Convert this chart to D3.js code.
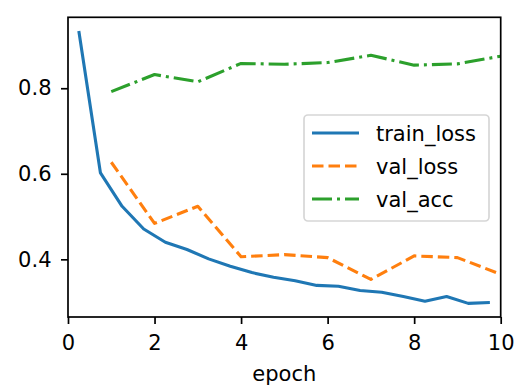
<!DOCTYPE html>
<html>
<head>
<meta charset="utf-8">
<script src="https://cdn.jsdelivr.net/npm/d3@7"></script>
<style>
  html, body { margin: 0; padding: 0; background: #ffffff; }
  svg { display: block; font-family: "DejaVu Sans", sans-serif; }
</style>
</head>
<body>
<svg id="chart" width="521" height="390"></svg>
<script>
// ---- data ----
const trainEpochs = [0.25, 0.75, 1.25, 1.75, 2.25, 2.75, 3.25, 3.75, 4.25, 4.75,
                     5.25, 5.75, 6.25, 6.75, 7.25, 7.75, 8.25, 8.75, 9.25, 9.75];
const trainLoss = [0.934, 0.602, 0.524, 0.471, 0.440, 0.423, 0.401, 0.384, 0.369, 0.358,
                   0.350, 0.339, 0.337, 0.327, 0.323, 0.313, 0.302, 0.313, 0.297, 0.299];
const valEpochs = [1, 2, 3, 4, 5, 6, 7, 8, 9, 10];
const valLoss = [0.627, 0.484, 0.524, 0.406, 0.411, 0.404, 0.353, 0.408, 0.404, 0.365];
const valAcc  = [0.792, 0.832, 0.815, 0.858, 0.856, 0.860, 0.877, 0.854, 0.857, 0.875];
const xTicks = [0, 2, 4, 6, 8, 10];
const yTicks = [0.4, 0.6, 0.8];
const seriesNames = ["train_loss", "val_loss", "val_acc"];
const seriesColors = ["#1f77b4", "#ff7f0e", "#2ca02c"];
const xLabel = "epoch";

// ---- layout ----
const W = 521, H = 390;
const margin = { left: 68, right: 20.3, top: 17.3, bottom: 73 };
const svg = d3.select("#chart");

const allY = trainLoss.concat(valLoss, valAcc);
const yMin = d3.min(allY), yMax = d3.max(allY), pad = (yMax - yMin) * 0.05;

const x = d3.scaleLinear().domain([0, 10]).range([margin.left, W - margin.right]);
const y = d3.scaleLinear().domain([yMin - pad, yMax + pad]).range([H - margin.bottom, margin.top]);

const series = [
  { name: seriesNames[0], xs: trainEpochs, ys: trainLoss, color: seriesColors[0], dash: null },
  { name: seriesNames[1], xs: valEpochs, ys: valLoss, color: seriesColors[1], dash: "11.5,5" },
  { name: seriesNames[2], xs: valEpochs, ys: valAcc, color: seriesColors[2], dash: "20,5,3,5" }
];

const line = d3.line().x(d => x(d[0])).y(d => y(d[1]));

const plot = svg.append("g");
series.forEach(s => {
  plot.append("path")
    .datum(s.xs.map((v, i) => [v, s.ys[i]]))
    .attr("fill", "none")
    .attr("stroke", s.color)
    .attr("stroke-width", 3.1)
    .attr("stroke-linejoin", "round")
    .attr("stroke-dasharray", s.dash)
    .attr("d", line);
});

// axes
const xAxis = svg.append("g")
  .attr("transform", `translate(0,${H - margin.bottom})`)
  .call(d3.axisBottom(x).tickValues(xTicks).tickFormat(d3.format("d")).tickSize(7).tickPadding(11));
const yAxis = svg.append("g")
  .attr("transform", `translate(${margin.left},0)`)
  .call(d3.axisLeft(y).tickValues(yTicks).tickFormat(d3.format(".1f")).tickSize(7).tickPadding(9.5));

[xAxis, yAxis].forEach(a => {
  a.select(".domain").remove();
  a.selectAll(".tick line").attr("stroke", "#000").attr("stroke-width", 1.7);
  a.selectAll(".tick text").attr("fill", "#000").style("font-size", "21px")
    .style("font-family", "DejaVu Sans, sans-serif");
});

// spines
svg.append("rect")
  .attr("x", margin.left).attr("y", margin.top)
  .attr("width", W - margin.left - margin.right)
  .attr("height", H - margin.top - margin.bottom)
  .attr("fill", "none").attr("stroke", "#000").attr("stroke-width", 1.7);

// x label
svg.append("text")
  .attr("x", (margin.left + W - margin.right) / 2)
  .attr("y", 381)
  .attr("text-anchor", "middle")
  .style("font-size", "21px")
  .text(xLabel);

// legend
const lg = svg.append("g");
lg.append("rect")
  .attr("x", 304).attr("y", 115).attr("width", 185).attr("height", 106)
  .attr("rx", 4).attr("fill", "#fff").attr("fill-opacity", 0.8)
  .attr("stroke", "#d6d6d6").attr("stroke-width", 1.7);
series.forEach((s, i) => {
  const ly = 133 + i * 33;
  lg.append("line")
    .attr("x1", 312).attr("x2", 359).attr("y1", ly).attr("y2", ly)
    .attr("stroke", s.color).attr("stroke-width", 3.1)
    .attr("stroke-dasharray", s.dash);
  lg.append("text")
    .attr("x", 376).attr("y", ly + 7.5)
    .style("font-size", "21px")
    .text(s.name);
});
</script>
</body>
</html>
